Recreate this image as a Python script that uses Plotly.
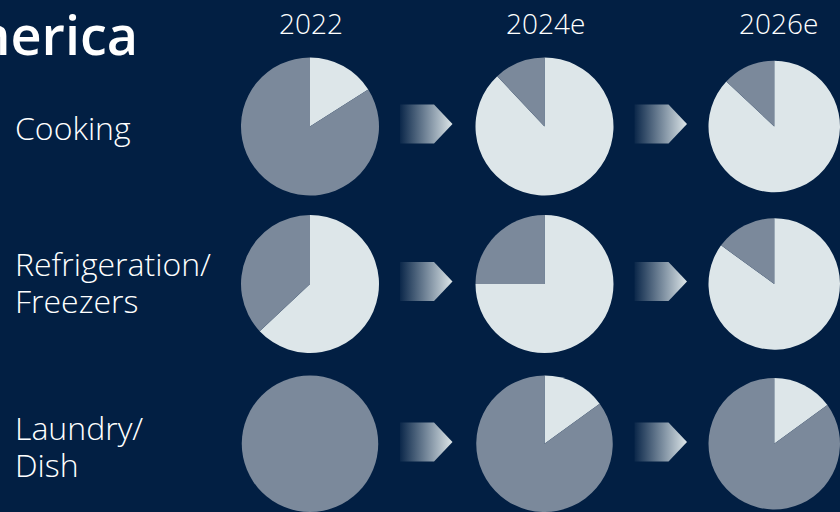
import plotly.graph_objects as go

# ---- data ----
years = ["2022", "2024e", "2026e"]
categories = ["Cooking", "Refrigeration/<br>Freezers", "Laundry/<br>Dish"]
# share shown in light colour (starting at 12 o'clock, clockwise) and remainder in grey
cooking_light = [16, 88, 87]
cooking_grey = [84, 12, 13]
refrig_light = [63, 75, 85]
refrig_grey = [37, 25, 15]
laundry_light = [0, 15, 15]
laundry_grey = [100, 85, 85]
title_text = "North America"

light_rows = [cooking_light, refrig_light, laundry_light]
grey_rows = [cooking_grey, refrig_grey, laundry_grey]

# ---- styling / layout ----
W, H = 840, 512
BG = "#021F43"
GREY = "#7B899B"
LIGHT = "#DDE6E9"
FONT = "Open Sans"

col_cx = [310, 544.5, 777.5]
row_cy = [126.5, 284, 444.5]
label_cy = [127, 282, 445.5]
R = 69

fig = go.Figure()

def clamp(v):
    return max(0.0, min(1.0, v))

for ri in range(3):
    for ci in range(3):
        cx, cy = col_cx[ci], row_cy[ri]
        fig.add_trace(go.Pie(
            values=[light_rows[ri][ci], grey_rows[ri][ci]],
            labels=["light", "grey"],
            marker=dict(colors=[LIGHT, GREY], line=dict(width=0)),
            sort=False, direction="clockwise", rotation=0,
            textinfo="none", hoverinfo="skip", showlegend=False,
            domain=dict(x=[clamp((cx - R) / W), clamp((cx + R) / W)],
                        y=[clamp((H - (cy + R)) / H), clamp((H - (cy - R)) / H)]),
        ))

# gradient arrows between the year columns
for ri in range(3):
    cy = row_cy[ri] - 2.5
    for ci in range(2):
        x0 = col_cx[ci] + 90
        x1 = x0 + 34
        x2 = x0 + 52.5
        fig.add_trace(go.Scatter(
            x=[x0, x1, x2, x1, x0, x0],
            y=[cy - 19.5, cy - 19.5, cy, cy + 19.5, cy + 19.5, cy - 19.5],
            mode="none", fill="toself",
            fillgradient=dict(type="horizontal",
                              colorscale=[[0, "rgba(221,230,233,0.04)"],
                                          [1, "rgba(221,230,233,1)"]]),
            hoverinfo="skip", showlegend=False,
            xaxis="x", yaxis="y",
        ))

annotations = []
# title (partly cut off at left edge)
annotations.append(dict(x=140, y=34, xref="x", yref="y", text=title_text,
                        xanchor="right", yanchor="middle", showarrow=False,
                        font=dict(family=FONT, size=54, color="white", weight=600)))
# column headers
for ci, yr in enumerate(years):
    annotations.append(dict(x=col_cx[ci] + 1, y=22.5, xref="x", yref="y", text=yr,
                            xanchor="center", yanchor="middle", showarrow=False,
                            font=dict(family=FONT, size=28, color="white", weight=300)))
# row labels
line_gap = 37
for ri, cat in enumerate(categories):
    lines = cat.split("<br>")
    n = len(lines)
    for li, ln in enumerate(lines):
        yy = label_cy[ri] + (li - (n - 1) / 2) * line_gap
        annotations.append(dict(x=13, y=yy, xref="x", yref="y", text=ln,
                                xanchor="left", yanchor="middle", showarrow=False,
                                font=dict(family=FONT, size=32, color="white", weight=300)))

fig.update_layout(
    width=W, height=H,
    margin=dict(l=0, r=0, t=0, b=0),
    paper_bgcolor=BG, plot_bgcolor=BG,
    xaxis=dict(range=[0, W], visible=False, fixedrange=True, domain=[0, 1]),
    yaxis=dict(range=[H, 0], visible=False, fixedrange=True, domain=[0, 1]),
    annotations=annotations,
    showlegend=False,
)

fig.write_html(
    "out.html",
    config={"displayModeBar": False},
    post_script="document.body.style.margin='0';document.body.style.background='%s';" % BG,
)
